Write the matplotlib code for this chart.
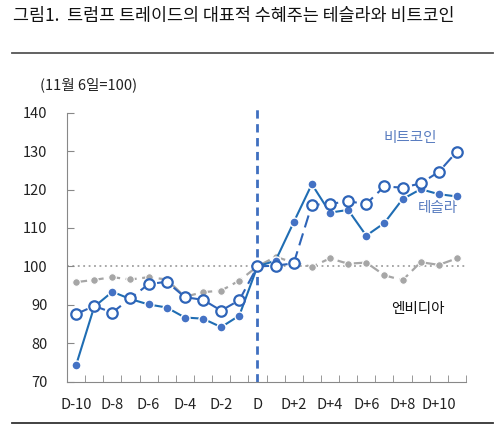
import matplotlib.pyplot as plt
from matplotlib.lines import Line2D

plt.rcParams['font.family'] = ['Noto Sans CJK KR', 'DejaVu Sans']

days = ['D-10', 'D-9', 'D-8', 'D-7', 'D-6', 'D-5', 'D-4', 'D-3', 'D-2', 'D-1', 'D',
        'D+1', 'D+2', 'D+3', 'D+4', 'D+5', 'D+6', 'D+7', 'D+8', 'D+9', 'D+10', 'D+11']
tesla = [74.3, 89.5, 93.4, 91.5, 90.1, 89.3, 86.7, 86.4, 84.2, 87.2, 100,
         101.5, 111.5, 121.4, 114.0, 114.7, 108.0, 111.3, 117.5, 120.1, 118.8, 118.2]
bitcoin = [87.6, 89.7, 88.0, 91.7, 95.4, 96.0, 92.0, 91.3, 88.5, 91.2, 100,
           100.2, 100.8, 116.0, 116.3, 116.9, 116.3, 120.8, 120.5, 121.6, 124.6, 129.9]
nvidia = [95.9, 96.5, 97.2, 96.6, 97.2, 96.6, 92.1, 93.3, 93.7, 96.3, 100,
          102.5, 101.0, 99.9, 102.1, 100.7, 101.0, 97.7, 96.4, 101.1, 100.4, 102.1]
shown = ['D-10', 'D-8', 'D-6', 'D-4', 'D-2', 'D', 'D+2', 'D+4', 'D+6', 'D+8', 'D+10']

x = list(range(len(days)))

fig = plt.figure(figsize=(5, 4.33), dpi=100)
ax = fig.add_axes([0.134, 0.1185, 0.798, 0.6212])

ax.axhline(100, color='#a0a0a0', lw=1.3, ls=(0, (1, 2)), zorder=1)
ax.axvline(days.index('D'), ymin=0, ymax=1.02, color='#3f6fc0', lw=2,
           ls=(0, (3, 2)), zorder=2, clip_on=False)

ax.plot(x, nvidia, color='#a6a6a6', lw=1.6, ls=(0, (5, 2.5)), marker='o', ms=5.5,
        mfc='#a6a6a6', mec='white', mew=0.8, zorder=3)
ax.plot(x, tesla, color='#1f6db3', lw=1.5, marker='o', ms=6.5,
        mfc='#4472c4', mec='white', mew=1.0, zorder=4)
ax.plot(x, bitcoin, color='#2e64b8', lw=1.5, ls=(0, (6, 3)), marker='o', ms=7.5,
        mfc='white', mec='#2e64b8', mew=1.6, zorder=5)

ax.set_xlim(-0.5, len(days) - 0.5)
ax.set_ylim(70, 140)
ax.set_yticks(range(70, 141, 10))
ax.set_xticks([days.index(d) for d in shown])
ax.set_xticklabels(shown)
ax.set_xticks([i - 0.5 for i in range(len(days) + 1)], minor=True)
ax.tick_params(axis='x', which='major', length=0, pad=12, labelsize=10.5, colors='#222222')
ax.tick_params(axis='x', which='minor', direction='in', length=5, color='#888888')
ax.tick_params(axis='y', direction='in', length=5, color='#888888', labelsize=10.5,
               labelcolor='#222222', pad=14)
for s in ['top', 'right']:
    ax.spines[s].set_visible(False)
for s in ['left', 'bottom']:
    ax.spines[s].set_color('#888888')

ax.text(0.86, 0.905, '비트코인', transform=ax.transAxes, color='#5a7dc0', fontsize=10.5,
        ha='center', va='center')
ax.text(0.93, 0.645, '테슬라', transform=ax.transAxes, color='#5a7dc0', fontsize=10.5,
        ha='center', va='center')
ax.text(0.88, 0.27, '엔비디아', transform=ax.transAxes, color='#111111', fontsize=10.5,
        ha='center', va='center')

fig.text(0.026, 0.962, '그림1.  트럼프 트레이드의 대표적 수혜주는 테슬라와 비트코인',
         fontsize=12.5, ha='left', va='center', color='#111111')
fig.add_artist(Line2D([0.024, 0.986], [0.877, 0.877], color='#555555', lw=1.3))
fig.add_artist(Line2D([0.024, 0.986], [0.023, 0.023], color='#333333', lw=1.3))
fig.text(0.08, 0.804, '(11월 6일=100)', fontsize=10.5, ha='left', va='center', color='#222222')

fig.savefig('out.png', dpi=100)
